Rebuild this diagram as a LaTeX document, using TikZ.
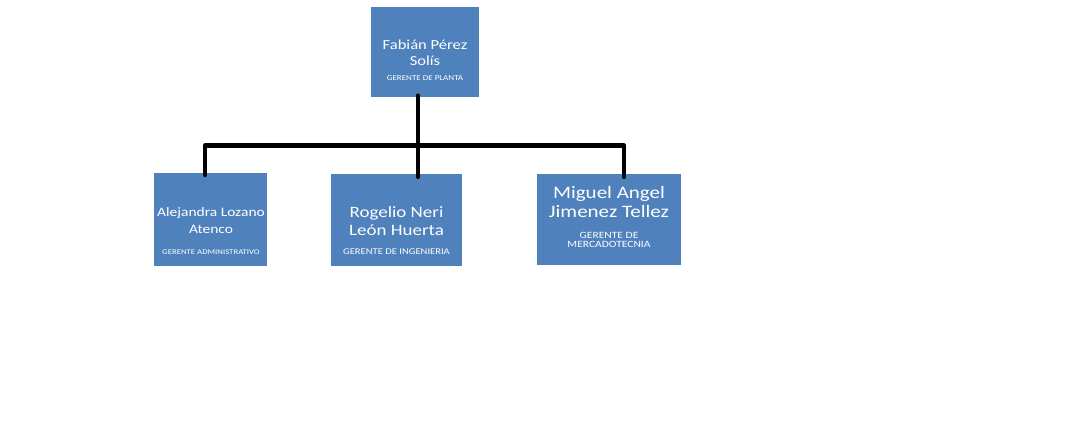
\documentclass[tikz,border=0pt]{standalone}
\usepackage{fontspec}
\setmainfont[FakeStretch=1.2]{Carlito}
\usetikzlibrary{positioning}

\definecolor{boxblue}{HTML}{4F81BD}
\tikzset{
  orgbox/.style={rectangle, fill=boxblue, inner sep=0pt},
  orgtext/.style={text=white, align=center, inner sep=0pt, anchor=base},
  orgline/.style={line width=4.6pt, black, line cap=round, line join=round},
}
\newcommand{\cargo}[2]{{\fontsize{#1}{9}\selectfont #2}}

\begin{document}
\begin{tikzpicture}[x=1pt, y=1pt]
			\useasboundingbox (0,0) rectangle (1066,-426);
			
			% cajas
			\node[orgbox, minimum width=108pt, minimum height=90pt] (planta) at (425,-51.5) {};
			\node[orgbox, minimum width=113pt, minimum height=93pt] (admin) at (210.5,-219.5) {};
			\node[orgbox, minimum width=131pt, minimum height=92pt] (ingen) at (396.5,-220) {};
			\node[orgbox, minimum width=144pt, minimum height=91pt] (merca) at (609,-219.5) {};
			
			% textos (anclados en la linea base de la ultima linea)
			\node[orgtext, font=\fontsize{13.8}{16}\selectfont] (plantaT) at (425,-80.5)
				{Fabián Pérez\\Solís\\[-1pt]\cargo{7.5}{GERENTE DE PLANTA}};
			\node[orgtext, font=\fontsize{12.9}{17}\selectfont] (adminT) at (211,-254.5)
				{Alejandra Lozano\\Atenco\\[4pt]\cargo{7.3}{GERENTE ADMINISTRATIVO}};
			\node[orgtext, font=\fontsize{15.8}{18}\selectfont] (ingenT) at (396.5,-254.5)
				{Rogelio Neri\\León Huerta\\[1pt]\cargo{8.8}{GERENTE DE INGENIERIA}};
			\node[orgtext, font=\fontsize{17.5}{19}\selectfont] (mercaT) at (609,-247.5)
				{Miguel Angel\\Jimenez Tellez\\[2pt]\cargo{9.6}{GERENTE DE}\\[-10pt]\cargo{9.6}{MERCADOTECNIA}};
			
			% conectores
			\coordinate (hub) at (418,-145.5);
			\coordinate (hubL) at (205,-145.5);
			\coordinate (hubR) at (624,-145.5);
			\draw[orgline] ([yshift=-2pt]admin.north -| hubL) -- (hubL) -- (hubR) -- ([yshift=-3pt]merca.north -| hubR);
			\draw[orgline] ([yshift=1pt]planta.south -| hub) -- ([yshift=-3pt]ingen.north -| hub);
\end{tikzpicture}
\end{document}
